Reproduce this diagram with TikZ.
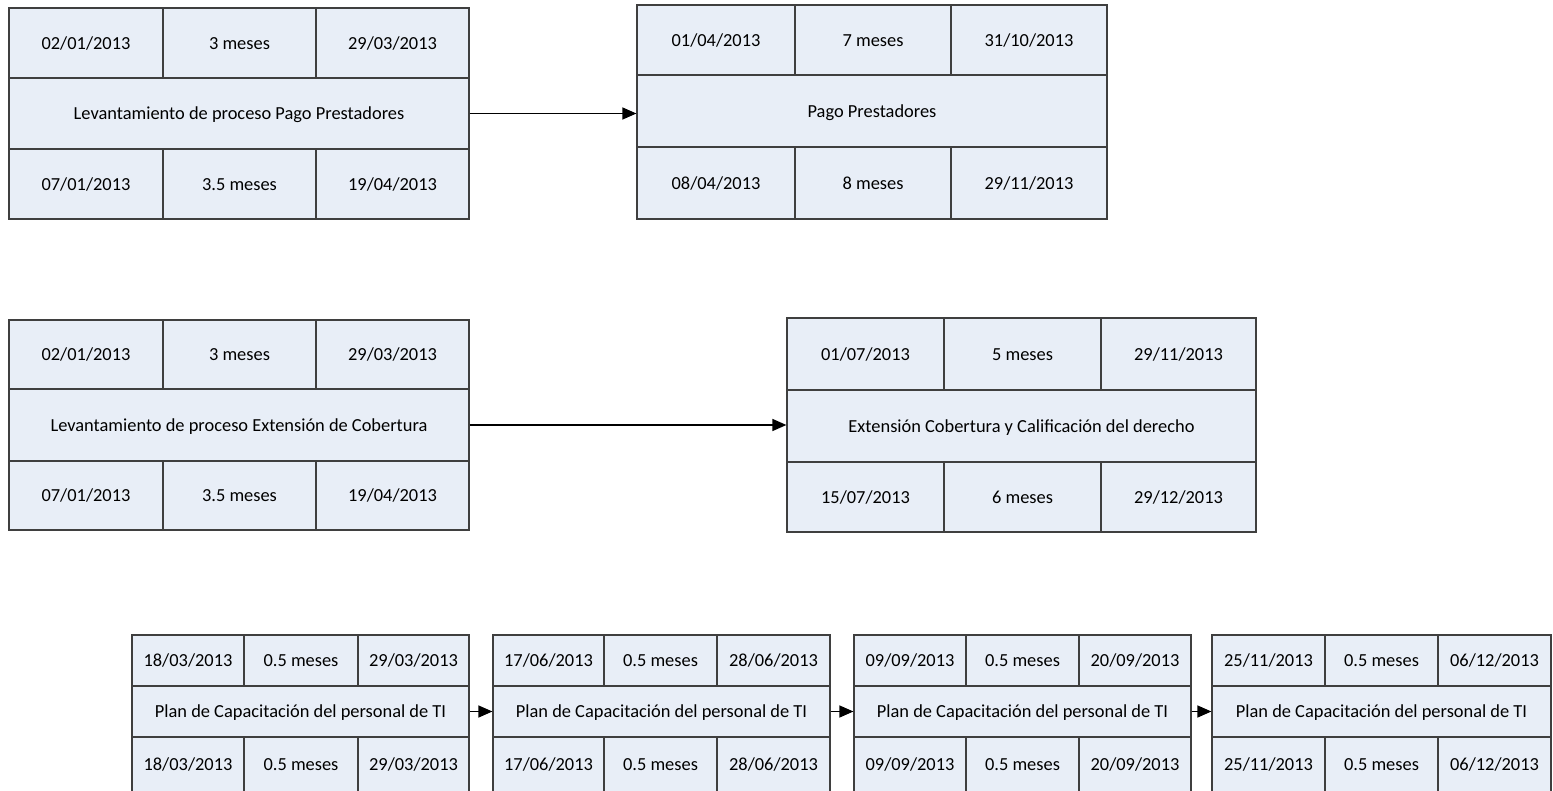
\documentclass[tikz,border=0pt]{standalone}
\usepackage{fontspec}
\setmainfont{Carlito}
\usetikzlibrary{arrows.meta}

\definecolor{cellfill}{HTML}{E8EEF7}
\definecolor{cellline}{HTML}{3F3F3F}

\tikzset{
  cell/.style={draw=cellline, fill=cellfill, line width=1.2pt, inner sep=0pt,
    font=\fontsize{18.4}{22}\selectfont, anchor=center},
  celltext/.style={inner sep=0pt, font=\fontsize{18.4}{22}\selectfont,
    text=black, text height=0.85em, text depth=0.21em, yshift=-3pt},
  link/.style={draw=black, line width=1.3pt,
    -{Triangle[length=14pt,width=12pt]}, shorten >=0pt}
}

% one cell of a task box, given its corners in pixel units
\newcommand\cell[6]{%
  \pgfmathsetmacro\cw{#4-#2}%
  \pgfmathsetmacro\ch{#5-#3}%
  \pgfmathsetmacro\cx{(#2+#4)/2}%
  \pgfmathsetmacro\cy{(#3+#5)/2}%
  \node[cell, minimum width=\cw pt, minimum height=\ch pt] (#1) at (\cx,\cy) {};%
  \node[celltext] at (#1.center) {#6};%
}

% geometry of a task box: name, left, col1, col2, right, top, row1, row2, bottom
\newcommand\taskgeom[9]{%
  \def\tN{#1}\def\tXa{#2}\def\tXb{#3}\def\tXc{#4}\def\tXd{#5}%
  \def\tYa{#6}\def\tYb{#7}\def\tYc{#8}\def\tYd{#9}%
}
% texts of a task box: early start, duration, early finish, name,
% late start, duration, late finish
\newcommand\tasktext[7]{%
  \cell{\tN-es}{\tXa}{\tYa}{\tXb}{\tYb}{#1}
  \cell{\tN-du}{\tXb}{\tYa}{\tXc}{\tYb}{#2}
  \cell{\tN-ef}{\tXc}{\tYa}{\tXd}{\tYb}{#3}
  \cell{\tN}{\tXa}{\tYb}{\tXd}{\tYc}{#4}
  \cell{\tN-ls}{\tXa}{\tYc}{\tXb}{\tYd}{#5}
  \cell{\tN-ld}{\tXb}{\tYc}{\tXc}{\tYd}{#6}
  \cell{\tN-lf}{\tXc}{\tYc}{\tXd}{\tYd}{#7}
}

\begin{document}
\begin{tikzpicture}[x=1pt, y=-1pt]
\useasboundingbox (0,0) rectangle (1553,791);

% first chain
\taskgeom{lpp}{9}{163}{316}{469}{8}{78}{149}{219}
\tasktext{02/01/2013}{3 meses}{29/03/2013}{Levantamiento de proceso Pago Prestadores}{07/01/2013}{3.5 meses}{19/04/2013}

\taskgeom{pp}{637}{795}{951}{1107}{5}{75}{147}{219}
\tasktext{01/04/2013}{7 meses}{31/10/2013}{Pago Prestadores}{08/04/2013}{8 meses}{29/11/2013}

% second chain
\taskgeom{lec}{9}{163}{316}{469}{320}{389}{461}{530}
\tasktext{02/01/2013}{3 meses}{29/03/2013}{Levantamiento de proceso Extensión de Cobertura}{07/01/2013}{3.5 meses}{19/04/2013}

\taskgeom{ec}{787}{944}{1101}{1256}{318}{390}{462}{532}
\tasktext{01/07/2013}{5 meses}{29/11/2013}{Extensión Cobertura y Calificación del derecho}{15/07/2013}{6 meses}{29/12/2013}

% training plan chain
\taskgeom{ti1}{132}{244}{358}{469}{635}{686}{737}{792}
\tasktext{18/03/2013}{0.5 meses}{29/03/2013}{Plan de Capacitación del personal de TI}{18/03/2013}{0.5 meses}{29/03/2013}

\taskgeom{ti2}{493}{604}{717}{830}{635}{686}{737}{792}
\tasktext{17/06/2013}{0.5 meses}{28/06/2013}{Plan de Capacitación del personal de TI}{17/06/2013}{0.5 meses}{28/06/2013}

\taskgeom{ti3}{854}{966}{1079}{1191}{635}{686}{737}{792}
\tasktext{09/09/2013}{0.5 meses}{20/09/2013}{Plan de Capacitación del personal de TI}{09/09/2013}{0.5 meses}{20/09/2013}

\taskgeom{ti4}{1212}{1325}{1438}{1551}{635}{686}{737}{792}
\tasktext{25/11/2013}{0.5 meses}{06/12/2013}{Plan de Capacitación del personal de TI}{25/11/2013}{0.5 meses}{06/12/2013}

% dependencies
\draw[link] (lpp.east) -- (lpp.east -| pp.west);
\draw[link] (lec.east) -- (lec.east -| ec.west);
\draw[link] (ti1.east) -- (ti2.west);
\draw[link] (ti2.east) -- (ti3.west);
\draw[link] (ti3.east) -- (ti4.west);
\end{tikzpicture}
\end{document}
